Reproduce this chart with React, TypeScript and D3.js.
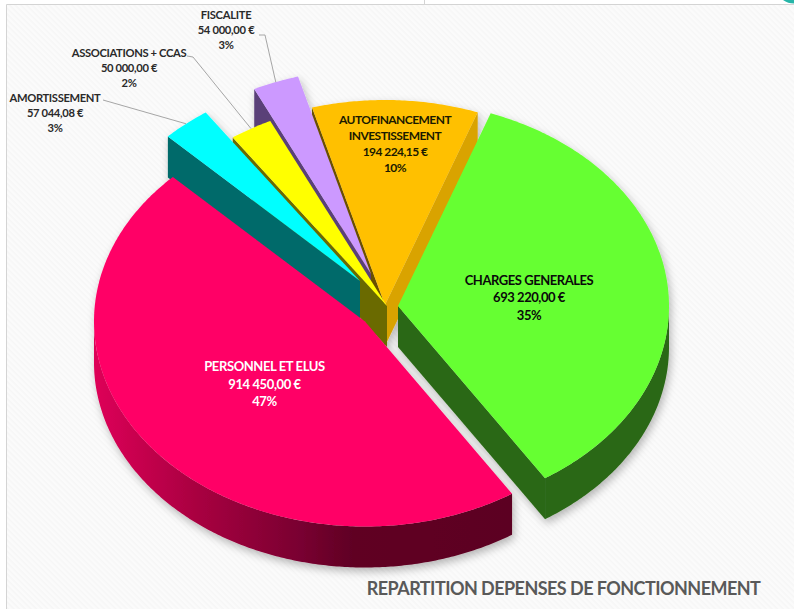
import React from "react";
import * as d3 from "d3";

const categories = ["CHARGES GENERALES", "PERSONNEL ET ELUS", "AMORTISSEMENT", "ASSOCIATIONS + CCAS", "FISCALITE", "AUTOFINANCEMENT INVESTISSEMENT"];
const amounts = [693220.0, 914450.0, 57044.08, 50000.0, 54000.0, 194224.15];
const amountLabels = ["693 220,00 €", "914 450,00 €", "57 044,08 €", "50 000,00 €", "54 000,00 €", "194 224,15 €"];
const percentLabels = ["35%", "47%", "3%", "2%", "3%", "10%"];
const labelLines = [["CHARGES GENERALES"], ["PERSONNEL ET ELUS"], ["AMORTISSEMENT"], ["ASSOCIATIONS + CCAS"], ["FISCALITE"], ["AUTOFINANCEMENT", "INVESTISSEMENT"]];
const title = "REPARTITION DEPENSES DE FONCTIONNEMENT";

const W = 794, H = 609;
const RX = 271, RY = 205, DEPTH = 41;
const START = (20 * Math.PI) / 180;
const FONT = "Lato, 'Open Sans', sans-serif";

// layout, per slice, in data order
const centers = [[398, 306], [365, 321.5], [360, 281], [387, 306], [371, 274], [385, 305]];
const topColors = ["#66FF33", "#FF0066", "#00FFFF", "#FFFF00", "#CC99FF", "#FFC000"];
const leftWalls = ["#2B6815", "none", "#006B6B", "#6B6B00", "#5A3F78", "#6B5000"];
const labelAnchors = [[529, 284.5], [264.5, 371], [55, 102], [129, 57], [226, 18.5], [395, 123.5]];
const labelColors = ["#0a0a0a", "#ffffff", "#2a2a2a", "#2a2a2a", "#2a2a2a", "#1a1a00"];
const lineHeights = [17.7, 17.5, 15, 15, 15, 16.2];
const fontSizes = [13, 13, 11.2, 11.2, 11.2, 12];
const letterSpacings = [-0.45, -0.4, -0.35, -0.35, -0.3, -0.55];

const pie = d3.pie<number>().sort(null).startAngle(START).endAngle(START + 2 * Math.PI);
const arcs = pie(amounts);

const sx = d3.scaleLinear().domain([-1, 1]).range([-RX, RX]);
const sy = d3.scaleLinear().domain([-1, 1]).range([-RY, RY]);
const line = d3.line<[number, number]>();

function pt(i: number, a: number, r = 1, z = 0): [number, number] {
  return [centers[i][0] + sx(r * Math.sin(a)), centers[i][1] + sy(-r * Math.cos(a)) + z];
}
function arcPts(i: number, a0: number, a1: number, z = 0): [number, number][] {
  const n = Math.max(2, Math.ceil(Math.abs(a1 - a0) / 0.01));
  return d3.range(n + 1).map((k) => pt(i, a0 + ((a1 - a0) * k) / n, 1, z));
}
function topFace(i: number) {
  const { startAngle: a0, endAngle: a1 } = arcs[i];
  return line([pt(i, 0, 0), ...arcPts(i, a0, a1)]) + "Z";
}
function edgeWall(i: number, a: number) {
  return line([pt(i, 0, 0), pt(i, a), pt(i, a, 1, DEPTH), pt(i, 0, 0, DEPTH)]) + "Z";
}
function rimWall(i: number, a0: number, a1: number) {
  return line([...arcPts(i, a0, a1), ...arcPts(i, a1, a0, DEPTH)]) + "Z";
}
const leaderElbows = [null, null, [103, 100, 110, 102], [187, 56, 193, 57], [259, 35, 265, 35]];

export default function App() {
  const [green, pink, cyan, yellow, lila, orange] = [0, 1, 2, 3, 4, 5];
  return (
    <svg width={W} height={H} style={{ position: "absolute", left: 0, top: 0, display: "block" }} fontFamily={FONT}>
      <defs>
        <pattern id="hatch" width="4" height="4" patternUnits="userSpaceOnUse" patternTransform="rotate(45)">
          <rect width="4" height="4" fill="#fbfbfb" />
          <rect width="4" height="1.6" fill="#f6f6f6" />
        </pattern>
        <linearGradient id="pinkRim" gradientUnits="userSpaceOnUse" x1="94" x2="511" y1="0" y2="0">
          <stop offset="0" stopColor="#DE0058" />
          <stop offset="0.25" stopColor="#A80040" />
          <stop offset="0.5" stopColor="#780030" />
          <stop offset="0.62" stopColor="#600024" />
          <stop offset="1" stopColor="#5C0020" />
        </linearGradient>
        <filter id="shadow" x="-10%" y="-10%" width="125%" height="125%">
          <feDropShadow dx="2" dy="4" stdDeviation="4" floodColor="#000" floodOpacity="0.28" />
        </filter>
      </defs>
      <rect width={W} height={H} fill="#ffffff" />
      <rect x="6" y="4" width={W} height={H} fill="url(#hatch)" />
      <path d={`M6.5,${H}V4.5H${W}M424.5,0V4`} fill="none" stroke="#d4d4d4" />
      <path d="M783,0Q788,3.5 794,3.5V0Z" fill="#26b5a8" />

      <g filter="url(#shadow)">
        {/* orange: back piece */}
        <path d={edgeWall(orange, arcs[orange].startAngle)} fill={leftWalls[orange]} />
        <path d={edgeWall(orange, arcs[orange].endAngle)} fill="#D9A300" />
        <path d={topFace(orange)} fill={topColors[orange]} />
        {/* thin slices, back to front */}
        {[lila, yellow, cyan].map((i) => (
          <g key={i}>
            <path d={edgeWall(i, arcs[i].startAngle)} fill={leftWalls[i]} />
            <path d={topFace(i)} fill={topColors[i]} />
          </g>
        ))}
        {/* green */}
        <path d={rimWall(green, Math.PI / 2, arcs[green].endAngle)} fill={leftWalls[green]} />
        <path d={edgeWall(green, arcs[green].endAngle)} fill={leftWalls[green]} />
        <path d={topFace(green)} fill={topColors[green]} />
        {/* pink */}
        <path d={rimWall(pink, arcs[pink].startAngle, (3 * Math.PI) / 2)} fill="url(#pinkRim)" />
        <path d={topFace(pink)} fill={topColors[pink]} />
      </g>

      {arcs.map((d, i) => {
        const el = leaderElbows[i];
        if (!el) return null;
        const mid = (d.startAngle + d.endAngle) / 2;
        const p = pt(i, mid);
        return <path key={i} d={`M${el[0]},${el[1]}L${el[2]},${el[3]}L${p[0]},${p[1]}`} fill="none" stroke="#a6a6a6" strokeWidth="1" />;
      })}

      {categories.map((_, i) => {
        const rows = [...labelLines[i], amountLabels[i], percentLabels[i]];
        return (
          <text key={i} textAnchor="middle" fill={labelColors[i]} fontSize={fontSizes[i]} letterSpacing={letterSpacings[i]} fontWeight={700}>
            {rows.map((r, k) => (
              <tspan key={k} x={labelAnchors[i][0]} y={labelAnchors[i][1] + k * lineHeights[i]}>{r}</tspan>
            ))}
          </text>
        );
      })}
      <text x={563.5} y={595} textAnchor="middle" fill="#595959" fontSize="18" letterSpacing="-0.55" fontWeight="700">{title}</text>
    </svg>
  );
}
